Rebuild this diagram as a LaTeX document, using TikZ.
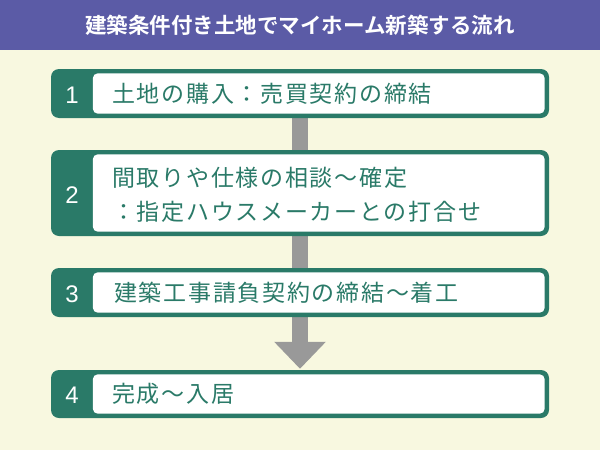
\documentclass[tikz,border=0pt]{standalone}
\usepackage{fontspec}
\setmainfont{Liberation Sans}
\newfontfamily\jp{Noto Sans CJK JP}[LetterSpace=7.5]
\newfontfamily\jpb{Noto Sans CJK JP Bold}
\usetikzlibrary{arrows.meta,backgrounds}
\definecolor{bgcream}{HTML}{F8F8E0}
\definecolor{titlepurple}{HTML}{5B5BA6}
\definecolor{stepgreen}{HTML}{2A7A68}
\definecolor{arrowgray}{HTML}{999999}
\tikzset{
  stepbox/.style={fill=stepgreen, rounded corners=8pt, minimum width=498pt, inner sep=0pt, draw=none},
  inner/.style={fill=white, rounded corners=5pt},
  num/.style={text=white, font=\fontsize{24}{24}\selectfont, anchor=center, inner sep=0pt},
  steptext/.style={text=stepgreen, font=\jp\fontsize{23}{34}\selectfont, anchor=west, inner sep=0pt, align=left},
}
\begin{document}
\begin{tikzpicture}[x=1pt,y=-1pt]
\useasboundingbox (0,0) rectangle (600,450);

\node[stepbox, minimum height=49pt] (b1) at (300,93.5) {};
\node[stepbox, minimum height=86pt] (b2) at (300,193) {};
\node[stepbox, minimum height=49pt] (b3) at (300,292.5) {};
\node[stepbox, minimum height=48pt] (b4) at (300,394) {};

\begin{scope}[on background layer]
\fill[bgcream] (0,0) rectangle (600,450);
\draw[arrowgray, line width=16pt, -{Triangle[width=50pt,length=27pt]}] (b1.south) -- ([yshift=1pt]b4.north);
\end{scope}

\fill[titlepurple] (0,0) rectangle (600,50);
\node[text=white, font=\jpb\fontsize{21.5}{22}\selectfont, inner sep=0pt] (title) at (300,25) {建築条件付き土地でマイホーム新築する流れ};

\foreach \b in {b1,b2,b3,b4}{
  \fill[inner] ([xshift=42pt,yshift=-4.5pt]\b.north west) rectangle ([xshift=-4.5pt,yshift=4.5pt]\b.south east);
}

\node[num] (n1) at (72,95) {1};
\node[num] (n2) at (72,195) {2};
\node[num] (n3) at (72,294) {3};
\node[num] (n4) at (72,395) {4};

\node[steptext] (t1) at (112,93.5) {土地の購入：売買契約の締結};
\node[steptext] (t2) at (112,195) {間取りや仕様の相談～確定\\：指定ハウスメーカーとの打合せ};
\node[steptext] (t3) at (114,293) {建築工事請負契約の締結～着工};
\node[steptext] (t4) at (112,394) {完成～入居};
\end{tikzpicture}
\end{document}
